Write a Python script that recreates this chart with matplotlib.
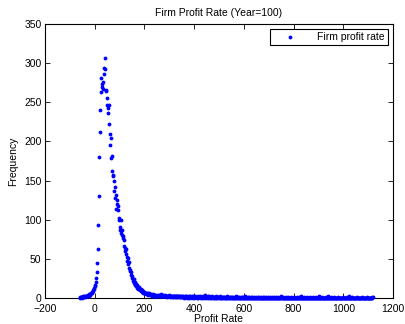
import numpy as np
import matplotlib
matplotlib.use("Agg")
import matplotlib.pyplot as plt

plt.rcParams['font.family'] = ['Liberation Sans', 'DejaVu Sans']

# Histogram bin centres (bin width 2) and counts
bin_start = -61
bin_step = 2

foot_counts = [1, 0, 1, 1, 0, 1, 1, 2, 1, 2, 2, 1, 2, 3, 2, 3, 3, 4, 3, 4,
               5, 4, 5, 6, 6, 7, 8, 9, 10, 11, 13]                      # -61 .. -1
rise_counts = [15, 17, 20, 26, 33, 45, 62, 93, 130, 180, 212, 240]      # 1 .. 23
peak_counts = [263, 281, 273, 270, 276, 267, 294, 286, 306, 292,
               266, 264, 247, 256, 243, 236, 246, 222, 210, 196,
               205, 179, 182, 162, 156, 157, 137, 150, 142, 128,
               132, 114, 125, 120, 113, 117, 100, 102, 91, 87,
               100, 83, 81, 87, 77, 79, 74, 66, 60, 64,
               56, 62, 52, 47, 51, 43, 46, 38, 34, 36,
               30, 33, 28, 26, 24, 22, 24, 19, 21, 17,
               18, 15, 17, 13, 14, 12, 14, 11, 12, 10,
               11, 9, 10, 8, 9, 7, 8, 6, 7, 6,
               7, 5, 6, 5, 6, 4, 5, 6, 4, 5,
               4, 5, 3, 4, 5, 3, 4, 3, 4, 3,
               2, 4, 3]                                                  # 25 .. 249
tail_counts = [
    3, 4, 2, 3, 4, 2, 3, 5, 2, 3, 2, 4, 3, 2, 3, 2, 4, 2, 3, 1, 2, 3, 2, 2, 4,
    1, 2, 3, 2, 1, 2, 3, 1, 2, 2, 3, 1, 2, 1, 3, 2, 1, 2, 2, 1, 3, 1, 2, 1, 2,
    1, 2, 1, 2, 0, 1, 3, 1, 2, 1, 0, 2, 1, 1, 2, 0, 1, 2, 1, 1, 0, 2, 1, 3, 1,
    0, 1, 2, 1, 1, 0, 1, 2, 0, 1, 1, 2, 1, 0, 1, 1, 0, 2, 1, 1, 0, 1, 4, 1, 0,
    1, 1, 0, 2, 1, 3, 0, 1, 1, 0, 1, 2, 0, 1, 0, 1, 1, 0, 2, 0, 1, 0, 1, 1, 0,
    1, 0, 2, 1, 0, 1, 0, 1, 0, 1, 1, 0, 0, 1, 0, 2, 0, 1, 0, 1, 0, 1, 0, 0, 1,
    0, 1, 0, 1, 0, 0, 1, 0, 2, 0, 1, 0, 0, 1, 0, 1, 0, 0, 1, 0, 0, 1, 0, 1, 0,
    0, 2, 0, 0, 1, 0, 0, 1, 0, 1, 0, 0, 0, 1, 0, 0, 1, 0, 0, 1, 0, 0, 0, 1, 0,
    0, 0, 1, 0, 0, 1, 0, 0, 0, 1, 0, 0, 1, 0, 0, 0, 1, 0, 0, 0, 1, 0, 0, 1, 0,
    0, 0, 0, 1, 0, 0, 1, 0, 0, 0, 1, 0, 0, 0, 0, 1, 0, 0, 0, 1, 0, 0, 0, 0, 1,
    2, 0, 0, 0, 1, 0, 0, 0, 0, 1, 0, 0, 0, 0, 1, 0, 0, 0, 0, 0, 1, 0, 0, 0, 0,
    1, 0, 0, 0, 0, 0, 1, 0, 0, 0, 0, 1, 0, 0, 2, 0, 0, 0, 0, 0, 1, 0, 0, 0, 0,
    0, 1, 0, 0, 0, 0, 0, 1, 0, 0, 0, 0, 0, 1, 0, 0, 0, 0, 0, 0, 1, 0, 0, 0, 0,
    0, 2, 0, 0, 0, 0, 0, 1, 0, 0, 0, 0, 0, 0, 1, 0, 0, 0, 2, 0, 0, 0, 0, 0, 1,
    0, 0, 0, 0, 0, 0, 1, 0, 0, 0, 0, 0, 0, 0, 1, 0, 0, 0, 0, 0, 0, 0, 0, 1, 0,
    0, 0, 0, 0, 0, 0, 0, 1, 0, 0, 2, 0, 0, 0, 0, 0, 0, 0, 1, 0, 0, 0, 0, 0, 0,
    0, 0, 0, 1, 0, 0, 0, 0, 0, 0, 0, 0, 1, 0, 0, 0, 0, 0, 0, 0, 0, 0, 0, 1, 0,
    0, 0, 0, 0, 0, 0, 0, 0, 1, 1]                                        # 251 .. 1119

counts = np.array(foot_counts + rise_counts + peak_counts + tail_counts)
centers = bin_start + bin_step * np.arange(len(counts))

x_ticks = [-200, 0, 200, 400, 600, 800, 1000, 1200]
y_ticks = [0, 50, 100, 150, 200, 250, 300, 350]

fig = plt.figure(figsize=(4.05, 3.24), dpi=100)
ax = fig.add_axes([45 / 405, 26 / 324, 348 / 405, 274 / 324])

ax.plot(centers, counts, '.', color='#0000ff', ms=5.5, mew=0,
        clip_on=False, zorder=3, label='Firm profit rate')

ax.set_xlim(-200, 1200)
ax.set_ylim(0, 350)
ax.set_xticks(x_ticks)
ax.set_yticks(y_ticks)
ax.tick_params(direction='in', length=3.5, width=0.6, labelsize=7.5,
               top=True, right=True, pad=2.5, colors='black')
ax.tick_params(axis='x', pad=4)
for s in ax.spines.values():
    s.set_linewidth(0.8)
    s.set_color('black')

ax.set_title('Firm Profit Rate (Year=100)', fontsize=7.5, pad=6)
ax.set_xlabel('Profit Rate', fontsize=7.5, labelpad=0)
ax.set_ylabel('Frequency', fontsize=7.5, labelpad=4)

leg = ax.legend(loc='upper right', fontsize=7.5, fancybox=False,
                edgecolor='black', framealpha=1, borderaxespad=0.5,
                handlelength=3.2, handletextpad=1.0, borderpad=0.3,
                markerscale=1.0)
leg.get_frame().set_linewidth(0.8)

fig.savefig('out.png', dpi=100)
